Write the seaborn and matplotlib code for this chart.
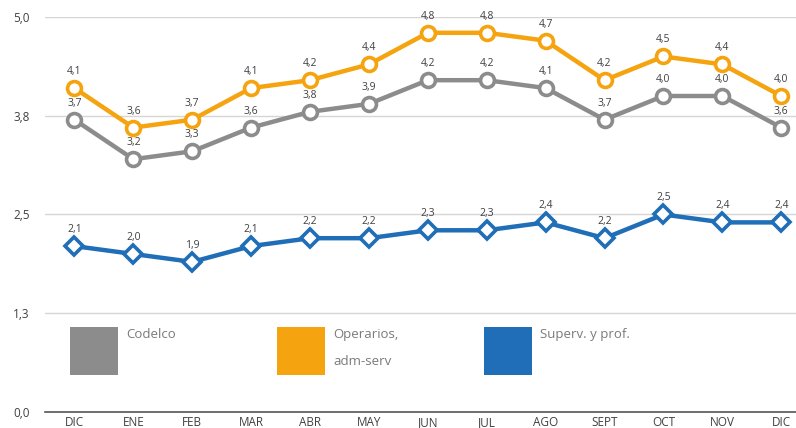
import numpy as np
import pandas as pd
import matplotlib
matplotlib.use("Agg")
import matplotlib.pyplot as plt
import seaborn as sns
from matplotlib.patches import Rectangle

sns.set_style("white")
plt.rcParams['font.family'] = ['Open Sans', 'DejaVu Sans']

months = ["DIC", "ENE", "FEB", "MAR", "ABR", "MAY", "JUN", "JUL", "AGO", "SEPT", "OCT", "NOV", "DIC"]
codelco = [3.7, 3.2, 3.3, 3.6, 3.8, 3.9, 4.2, 4.2, 4.1, 3.7, 4.0, 4.0, 3.6]
operarios = [4.1, 3.6, 3.7, 4.1, 4.2, 4.4, 4.8, 4.8, 4.7, 4.2, 4.5, 4.4, 4.0]
superv = [2.1, 2.0, 1.9, 2.1, 2.2, 2.2, 2.3, 2.3, 2.4, 2.2, 2.5, 2.4, 2.4]
yticks = [0, 1.25, 2.5, 3.75, 5.0]
ytick_labels = ["0,0", "1,3", "2,5", "3,8", "5,0"]

series = [
    ("Codelco", codelco, "#8c8c8c", "o"),
    ("Operarios,\nadm-serv", operarios, "#f5a30e", "o"),
    ("Superv. y prof.", superv, "#1f6eb7", "D"),
]

fig = plt.figure(figsize=(7.96, 4.28), dpi=100)
ax = fig.add_axes([0.0565, 0.0374, 0.9435, 0.9229])

pos = np.arange(len(months))
for name, vals, col, mk in series:
    df = pd.DataFrame({"x": pos, "y": vals})
    sns.lineplot(data=df, x="x", y="y", ax=ax, color=col, linewidth=3.2, sort=False,
                 marker=mk, markersize=10 if mk == "o" else 9, markerfacecolor="white",
                 markeredgecolor=col, markeredgewidth=2.6, clip_on=False, zorder=3)
    for xi, v in zip(pos, vals):
        ax.text(xi, v + 0.14, f"{v:.1f}".replace(".", ","), ha="center", va="bottom",
                fontsize=7.5, color="#404040", zorder=4)

ax.set_xlim(-0.5, 12.25)
ax.set_ylim(0, 5)
ax.set_yticks(yticks)
ax.set_yticklabels(ytick_labels)
ax.set_xticks(pos)
ax.set_xticklabels(months)
ax.tick_params(axis="both", length=0, labelsize=8.5, colors="#404040")
ax.tick_params(axis="y", pad=11)
ax.tick_params(axis="x", pad=3)
ax.set_xlabel("")
ax.set_ylabel("")
for yv in yticks[1:]:
    ax.axhline(yv, color="#d6d6d6", linewidth=1, zorder=1)
for s in ["top", "right", "left"]:
    ax.spines[s].set_visible(False)
ax.spines["bottom"].set_color("#555555")
ax.spines["bottom"].set_linewidth(1.2)

# legend boxes
leg_x = [0.0333, 0.309, 0.585]
for (name, vals, col, mk), lx in zip(series, leg_x):
    ax.add_patch(Rectangle((lx, 0.094), 0.0639, 0.121, transform=ax.transAxes,
                           facecolor=col, edgecolor="none", zorder=2))
    ax.text(lx + 0.0745, 0.212, name, transform=ax.transAxes, ha="left", va="top",
            fontsize=9.5, color="#7a7a7a", linespacing=2.35)

fig.savefig("out.png", dpi=100)
